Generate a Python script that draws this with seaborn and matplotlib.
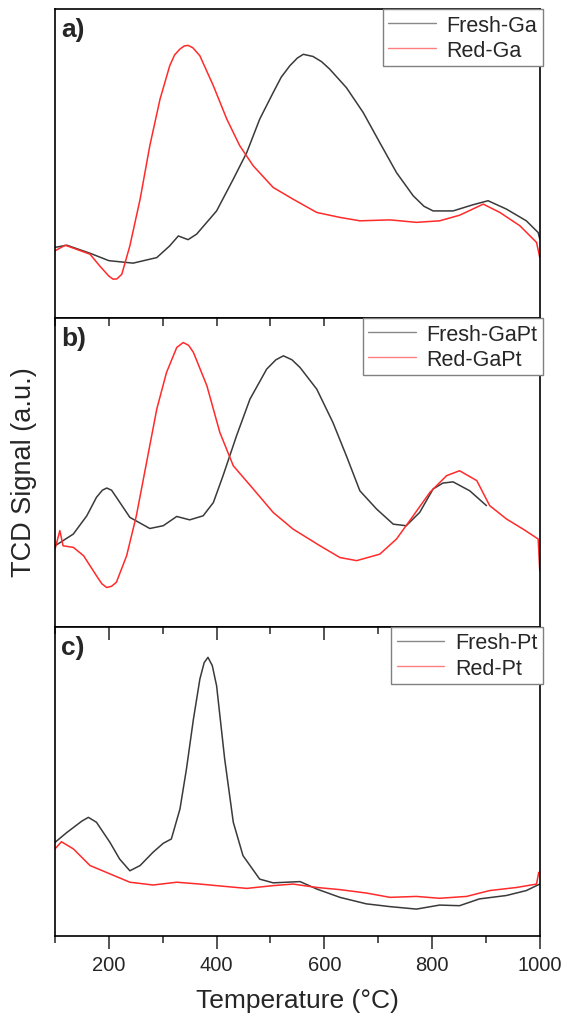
import matplotlib
matplotlib.use("Agg")
import matplotlib.pyplot as plt
import seaborn as sns
import numpy as np
from matplotlib.ticker import MultipleLocator

# ---- Data (normalised TCD signal, a.u.) ----
t_fresh_ga = [100, 122, 165, 200, 245, 289, 313, 329, 347, 363, 400, 431, 456, 480, 505, 520, 536, 550, 561,
              579, 595, 610, 641, 672, 703, 734, 765, 785, 802, 839, 876, 904, 938, 975, 997, 1000]
v_fresh_ga = [0.229, 0.236, 0.210, 0.186, 0.178, 0.196, 0.234, 0.266, 0.254, 0.272, 0.347, 0.450, 0.536,
              0.644, 0.730, 0.780, 0.817, 0.842, 0.854, 0.847, 0.830, 0.806, 0.746, 0.666, 0.568, 0.471,
              0.396, 0.362, 0.347, 0.347, 0.367, 0.380, 0.353, 0.315, 0.277, 0.256]
t_red_ga = [100, 119, 165, 183, 200, 208, 215, 224, 239, 258, 276, 295, 313, 322, 332, 340, 347, 356, 369,
            394, 419, 443, 468, 505, 542, 586, 629, 666, 722, 771, 814, 851, 895, 926, 963, 994, 1000]
v_red_ga = [0.218, 0.236, 0.207, 0.169, 0.136, 0.126, 0.127, 0.142, 0.234, 0.385, 0.558, 0.709, 0.817,
            0.852, 0.871, 0.881, 0.883, 0.875, 0.849, 0.752, 0.644, 0.558, 0.493, 0.423, 0.385, 0.342,
            0.326, 0.315, 0.318, 0.310, 0.315, 0.333, 0.369, 0.342, 0.299, 0.245, 0.196]

t_fresh_gapt = [100, 134, 159, 177, 188, 196, 205, 214, 239, 276, 301, 326, 350, 375, 394, 412, 437, 462,
                493, 510, 524, 540, 555, 586, 616, 641, 666, 697, 728, 752, 777, 802, 820, 839, 870, 901]
v_fresh_gapt = [0.263, 0.301, 0.360, 0.420, 0.443, 0.450, 0.443, 0.420, 0.355, 0.319, 0.328, 0.358, 0.347,
                0.360, 0.403, 0.490, 0.619, 0.738, 0.835, 0.865, 0.878, 0.865, 0.840, 0.770, 0.662, 0.554,
                0.441, 0.382, 0.333, 0.328, 0.371, 0.447, 0.466, 0.470, 0.441, 0.393]
t_red_gapt = [100, 109, 115, 134, 153, 177, 187, 196, 205, 214, 233, 251, 270, 289, 307, 326, 338, 348, 357,
              382, 406, 431, 468, 505, 542, 592, 629, 660, 703, 734, 765, 796, 827, 851, 883, 907, 938, 969,
              997, 1000]
v_red_gapt = [0.252, 0.312, 0.263, 0.258, 0.231, 0.166, 0.140, 0.128, 0.132, 0.145, 0.231, 0.360, 0.533,
              0.706, 0.824, 0.905, 0.921, 0.912, 0.889, 0.781, 0.630, 0.522, 0.447, 0.371, 0.317, 0.263,
              0.225, 0.215, 0.236, 0.285, 0.360, 0.436, 0.490, 0.506, 0.474, 0.393, 0.350, 0.317, 0.285,
              0.182]

t_fresh_pt = [100, 122, 150, 162, 177, 202, 220, 239, 258, 282, 301, 316, 332, 344, 357, 369, 377, 384,
              392, 400, 415, 431, 449, 480, 505, 555, 586, 629, 678, 722, 771, 814, 851, 888, 938, 975, 1000]
v_fresh_pt = [0.303, 0.335, 0.372, 0.384, 0.368, 0.303, 0.249, 0.211, 0.228, 0.271, 0.300, 0.314, 0.411,
              0.540, 0.702, 0.832, 0.885, 0.902, 0.875, 0.810, 0.573, 0.368, 0.260, 0.184, 0.172, 0.176,
              0.152, 0.125, 0.104, 0.095, 0.087, 0.100, 0.098, 0.120, 0.131, 0.147, 0.168]
t_red_pt = [100, 112, 134, 165, 202, 239, 282, 326, 369, 412, 456, 505, 542, 586, 629, 678, 722, 771, 814,
            864, 907, 957, 994, 998]
v_red_pt = [0.282, 0.305, 0.282, 0.228, 0.201, 0.174, 0.165, 0.174, 0.168, 0.161, 0.154, 0.163, 0.168,
            0.157, 0.150, 0.139, 0.125, 0.128, 0.122, 0.128, 0.147, 0.157, 0.168, 0.206]

panels = [
    ("a)", (t_fresh_ga, v_fresh_ga, "Fresh-Ga"), (t_red_ga, v_red_ga, "Red-Ga")),
    ("b)", (t_fresh_gapt, v_fresh_gapt, "Fresh-GaPt"), (t_red_gapt, v_red_gapt, "Red-GaPt")),
    ("c)", (t_fresh_pt, v_fresh_pt, "Fresh-Pt"), (t_red_pt, v_red_pt, "Red-Pt")),
]

sns.set_style("white")
plt.rcParams['font.family'] = ['Liberation Sans', 'DejaVu Sans']

fig, axes = plt.subplots(3, 1, figsize=(5.67, 10.2), dpi=100, sharex=True)
fig.subplots_adjust(left=0.097, right=0.952, top=0.990, bottom=0.0814, hspace=0)

BLACK = "#3a3a3a"
RED = "#ff2a2a"

for i, (ax, (lab, fresh, red)) in enumerate(zip(axes, panels)):
    sns.lineplot(x=fresh[0], y=fresh[1], ax=ax, color=BLACK, lw=1.1, label=fresh[2])
    sns.lineplot(x=red[0], y=red[1], ax=ax, color=RED, lw=1.1, label=red[2])
    ax.set_xlim(100, 1000)
    ax.set_ylim(0, 1)
    ax.set_yticks([])
    ax.set_ylabel("")
    for s in ax.spines.values():
        s.set_color("black")
        s.set_linewidth(1.2)
    ax.text(0.012, 0.975, lab, transform=ax.transAxes, fontsize=19, fontweight='bold',
            va='top', ha='left')
    leg = ax.legend(loc='upper right', bbox_to_anchor=(1.006, 1.0), borderaxespad=0,
                    fontsize=15.5, frameon=True, fancybox=False, handlelength=2.2,
                    handletextpad=0.5, labelspacing=0.2, borderpad=0.25)
    leg.get_frame().set_edgecolor("#808080")
    leg.get_frame().set_linewidth(1.0)
    leg.get_frame().set_alpha(1)
    for h in leg.get_lines():
        h.set_linewidth(1.0)
        h.set_alpha(0.6)
    ax.xaxis.set_major_locator(MultipleLocator(200))
    ax.xaxis.set_minor_locator(MultipleLocator(100))
    if i == 0:
        ax.tick_params(axis='x', which='both', bottom=False, top=False, labelbottom=False)
    elif i == 1:
        ax.tick_params(axis='x', which='both', bottom=False, top=True, direction='in',
                       labelbottom=False, length=6, width=1.1)
    else:
        ax.tick_params(axis='x', which='both', top=True, bottom=False, direction='in', length=6, width=1.1)
        ax.tick_params(axis='x', which='major', bottom=True, labelbottom=True, length=9, width=1.1,
                       labelsize=14.5, pad=14)
        ax.tick_params(axis='x', which='minor', bottom=True, length=5, width=1.1)
        for t in ax.xaxis.get_major_ticks() + ax.xaxis.get_minor_ticks():
            t.tick1line.set_marker(matplotlib.lines.TICKDOWN)
        ax.set_xlabel("Temperature (\u00b0C)", fontsize=19, labelpad=10)

fig.text(0.043, 0.537, "TCD Signal (a.u.)", rotation=90, fontsize=19.5, va='center', ha='center')

fig.savefig("out.png", dpi=100)
